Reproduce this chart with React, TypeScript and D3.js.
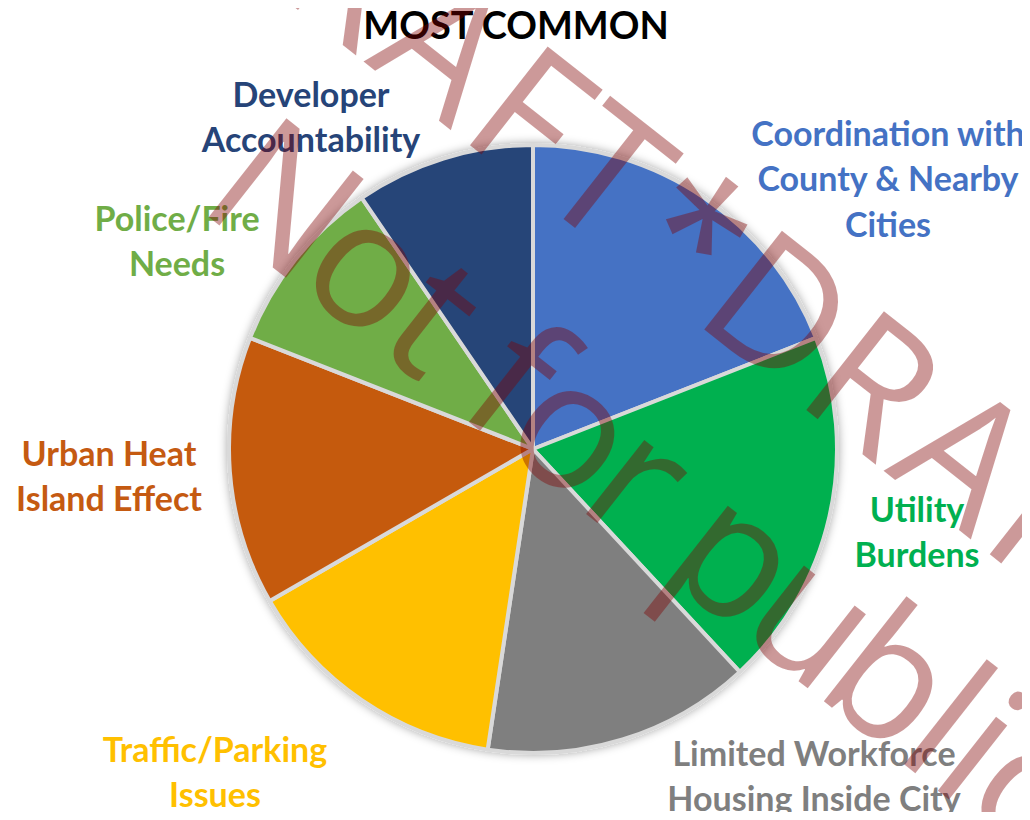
import React from "react";
import { pie, arc } from "d3";

// Survey answers: how many times each issue was named
const categories = [
  "Coordination with County & Nearby Cities",
  "Utility Burdens",
  "Limited Workforce Housing Inside City",
  "Traffic/Parking Issues",
  "Urban Heat Island Effect",
  "Police/Fire Needs",
  "Developer Accountability",
];
const counts = [4, 4, 3, 3, 3, 2, 2];
const labelLines = [
  ["Coordination with", "County & Nearby", "Cities"],
  ["Utility", "Burdens"],
  ["Limited Workforce", "Housing Inside City"],
  ["Traffic/Parking", "Issues"],
  ["Urban Heat", "Island Effect"],
  ["Police/Fire", "Needs"],
  ["Developer", "Accountability"],
];
const title = "MOST COMMON";
const watermarkLines = ["*DRAFT*DRAFT*", "Not for public"];

// styling / layout, kept apart from the data
const colors = ["#4472C4", "#00B050", "#7F7F7F", "#FFC000", "#C55A11", "#70AD47", "#264478"];
// label anchor (centre of first line baseline) relative to pie centre, dragged by hand in the original
const labelOffsets = [
  [355, -303],
  [384, 73],
  [281, 317],
  [-318, 313],
  [-424, 17],
  [-356, -218],
  [-222, -342],
];

// rough advance widths of the watermark face, in em
const advance: Record<string, number> = {
  "*": 0.498, D: 0.615, R: 0.543, A: 0.579, F: 0.459, T: 0.487,
  N: 0.646, o: 0.527, t: 0.335, " ": 0.226, f: 0.305, r: 0.349,
  p: 0.525, u: 0.525, b: 0.525, l: 0.229, i: 0.229, c: 0.423,
};

export default function App() {
  const width = 1030;
  const height = 820;
  const cx = 533;
  const cy = 449;
  const radius = 304;
  const labelFont = "Lato, 'Open Sans', sans-serif";
  const lineGap = 45.3;

  const slices = pie<number>().sort(null).value(d => d).startAngle(0)(counts);
  const arcPath = arc<any>().innerRadius(0).outerRadius(radius);

  // lay the watermark glyphs out along their baseline (rotated frame)
  const wmLayout = [
    { em: 208, index: 3, center: -76, v: 0 },
    { em: 187, index: 0, center: -108, v: 218 },
  ];
  const watermarkGlyphs = watermarkLines.map((line, li) => {
    const { em, index, center, v } = wmLayout[li];
    const chars = line.split("");
    const mids: number[] = [];
    let acc = 0;
    chars.forEach(ch => {
      const w = (advance[ch] ?? 0.5) * em;
      mids.push(acc + w / 2);
      acc += w;
    });
    const shift = center - mids[index];
    return chars.map((ch, i) => ({ ch, x: mids[i] + shift, y: v }));
  });

  return (
    <div style={{ width, height, margin: -8, background: "#fff" }}>
      <svg width={width} height={height} style={{ display: "block" }}>
        <defs>
          <filter id="pieShadow" x="-10%" y="-10%" width="120%" height="120%">
            <feDropShadow dx="0" dy="0" stdDeviation="5" floodColor="#000" floodOpacity="0.35" />
          </filter>
        </defs>

        <text
          x={516}
          y={39}
          textAnchor="middle"
          fontFamily={labelFont}
          fontWeight="bold"
          fontSize="38px"
          fill="#000"
        >
          {title}
        </text>

        <g transform={`translate(${cx},${cy})`}>
          <g filter="url(#pieShadow)">
            {slices.map((s, i) => (
              <path
                key={categories[i]}
                d={arcPath(s) || ""}
                fill={colors[i]}
                stroke="#D9D9D9"
                strokeWidth={4}
                strokeLinejoin="round"
              />
            ))}
          </g>
          {labelLines.map((lines, i) => (
            <text
              key={"lbl" + i}
              textAnchor="middle"
              fontFamily={labelFont}
              fontWeight="bold"
              fontSize="34px"
              fill={colors[i]}
            >
              {lines.map((ln, j) => (
                <tspan key={j} x={labelOffsets[i][0]} y={labelOffsets[i][1] + j * lineGap}>
                  {ln}
                </tspan>
              ))}
            </text>
          ))}
        </g>

        {/* watermark */}
        <g transform="translate(467,143) rotate(38.2)" fill="rgb(128,0,0)" fillOpacity={0.4}>
          {watermarkGlyphs.map((line, li) =>
            line.map((g, i) =>
              g.ch === " " ? null : (
                <text
                  key={`${li}-${i}`}
                  x={g.x}
                  y={g.y}
                  textAnchor="middle"
                  fontFamily="'Open Sans', sans-serif"
                  fontWeight={400}
                  fontSize="176px"
                >
                  {g.ch}
                </text>
              )
            )
          )}
        </g>
      </svg>
    </div>
  );
}
